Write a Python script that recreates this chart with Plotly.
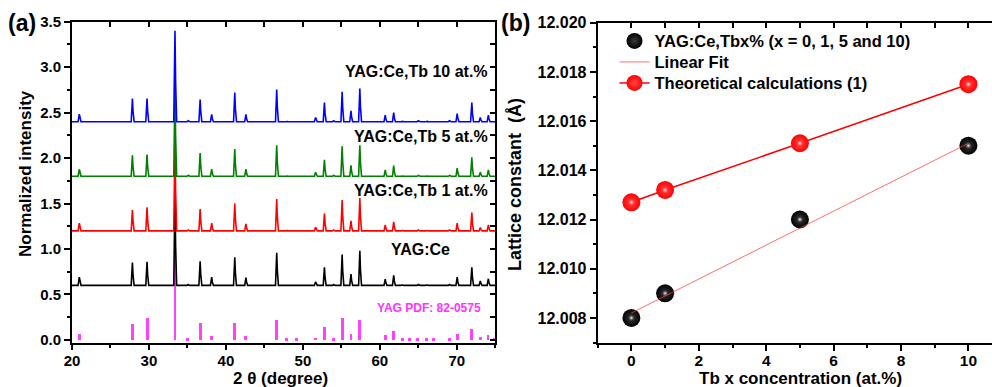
import plotly.graph_objects as go

# ---------------- Panel (a) data : XRD ----------------
peak_pos = [20.95, 27.85, 29.75, 33.38, 35.1, 36.65, 38.15, 41.15, 42.6, 46.6,
            47.9, 49.1, 51.65, 52.8, 54.0, 55.1, 56.25, 57.4, 60.7, 61.8,
            62.9, 63.95, 65.0, 66.1, 67.1, 69.05, 70.05, 71.95, 73.05, 74.1]
h_yag_ce = [0.09, 0.25, 0.26, 1.0, 0.01, 0.265, 0.09, 0.31, 0.085, 0.36,
            0.005, 0.005, 0.04, 0.20, 0.01, 0.34, 0.124, 0.38, 0.07, 0.11,
            0.008, 0.008, 0.01, 0.008, 0.005, 0.01, 0.09, 0.20, 0.05, 0.073]
h_tb1 = [0.084, 0.23, 0.26, 1.0, 0.01, 0.24, 0.084, 0.30, 0.077, 0.35,
         0.005, 0.005, 0.04, 0.19, 0.01, 0.34, 0.11, 0.36, 0.066, 0.10,
         0.008, 0.008, 0.01, 0.008, 0.005, 0.01, 0.084, 0.20, 0.036, 0.066]
h_tb5 = [0.077, 0.23, 0.24, 1.0, 0.01, 0.255, 0.08, 0.30, 0.078, 0.34,
         0.005, 0.005, 0.044, 0.18, 0.01, 0.33, 0.12, 0.34, 0.07, 0.117,
         0.008, 0.008, 0.01, 0.008, 0.005, 0.01, 0.09, 0.21, 0.045, 0.07]
h_tb10 = [0.084, 0.255, 0.255, 1.0, 0.01, 0.245, 0.08, 0.32, 0.08, 0.354,
          0.005, 0.005, 0.047, 0.21, 0.01, 0.33, 0.12, 0.365, 0.073, 0.10,
          0.008, 0.008, 0.01, 0.008, 0.005, 0.01, 0.09, 0.21, 0.047, 0.073]
offsets = [0.6, 1.2, 1.8, 2.4]
series_names = ["YAG:Ce", "YAG:Ce,Tb 1 at.%", "YAG:Ce,Tb 5 at.%", "YAG:Ce,Tb 10 at.%"]
series_colors = ["#000000", "#ff0000", "#008000", "#0000ff"]

pdf_pos = [20.95, 27.85, 29.75, 33.38, 35.05, 36.65, 38.15, 41.15, 42.6, 46.6,
           47.9, 49.15, 51.65, 52.8, 53.95, 55.1, 56.25, 57.4, 60.7, 61.8,
           62.9, 63.9, 64.95, 66.0, 67.0, 69.0, 70.05, 71.95, 73.05, 74.05, 74.9]
pdf_h = [0.07, 0.18, 0.24, 1.0, 0.02, 0.195, 0.05, 0.195, 0.05, 0.22,
         0.02, 0.02, 0.03, 0.15, 0.02, 0.25, 0.07, 0.22, 0.06, 0.10,
         0.02, 0.02, 0.02, 0.02, 0.02, 0.02, 0.07, 0.12, 0.04, 0.06, 0.03]

x_ticks_a = [20, 30, 40, 50, 60, 70]
y_ticks_a = [0.0, 0.5, 1.0, 1.5, 2.0, 2.5, 3.0, 3.5]

# ---------------- Panel (b) data : lattice constant ----------------
tb_x = [0, 1, 5, 10]
lattice_exp = [12.008, 12.009, 12.012, 12.015]
lattice_theory = [12.0127, 12.0132, 12.0151, 12.0175]
fit_x = [0, 10]
fit_y = [12.0082, 12.0151]
x_ticks_b = [0, 2, 4, 6, 8, 10]
y_ticks_b = [12.008, 12.010, 12.012, 12.014, 12.016, 12.018, 12.020]

FONT = "Liberation Sans, Arial, sans-serif"
W, H = 992, 387


def px_x(p):
    return p / W


def px_y(p):
    return 1 - p / H


def pattern(pos, hts, base, x0=20, x1=75):
    xs, ys = [x0], [base]
    for p, hh in zip(pos, hts):
        xs += [p - 0.16, p, p + 0.08, p + 0.22]
        ys += [base, base + hh, base + 0.45 * hh, base]
    xs.append(x1)
    ys.append(base)
    return xs, ys


fig = go.Figure()

# stick pattern
fig.add_trace(go.Bar(x=pdf_pos, y=pdf_h, width=0.38, marker=dict(color="#ff40ff", line=dict(width=0)),
                     xaxis="x", yaxis="y", showlegend=False, hoverinfo="skip"))

for hts, off, name, col in zip([h_yag_ce, h_tb1, h_tb5, h_tb10], offsets, series_names, series_colors):
    xs, ys = pattern(peak_pos, hts, off)
    fig.add_trace(go.Scatter(x=xs, y=ys, mode="lines", line=dict(color=col, width=1.6),
                             xaxis="x", yaxis="y", showlegend=False, name=name))

# panel b
fig.add_trace(go.Scatter(x=tb_x, y=lattice_exp, mode="markers", xaxis="x2", yaxis="y2",
                         name="YAG:Ce,Tbx% (x = 0, 1, 5 and 10)", legend="legend",
                         marker=dict(size=18, color="#000000", line=dict(width=0),
                                     gradient=dict(type="radial", color="#3a3a3a"))))
fig.add_trace(go.Scatter(x=tb_x, y=lattice_exp, mode="markers", xaxis="x2", yaxis="y2",
                         showlegend=False, hoverinfo="skip",
                         marker=dict(size=8, color="rgba(0,0,0,0)", line=dict(width=0),
                                     gradient=dict(type="radial", color="#ffffff"))))
fig.add_trace(go.Scatter(x=fit_x, y=fit_y, mode="lines", xaxis="x2", yaxis="y2",
                         name="Linear Fit", legend="legend2",
                         line=dict(color="rgba(255,60,60,0.75)", width=1)))
fig.add_trace(go.Scatter(x=tb_x, y=lattice_theory, mode="lines+markers", xaxis="x2", yaxis="y2",
                         name="Theoretical calculations (1)", legend="legend3",
                         line=dict(color="#ff0000", width=1.5),
                         marker=dict(size=18, color="#ff0000", line=dict(width=0),
                                     gradient=dict(type="radial", color="#ff4848"))))
fig.add_trace(go.Scatter(x=tb_x, y=lattice_theory, mode="markers", xaxis="x2", yaxis="y2",
                         showlegend=False, hoverinfo="skip",
                         marker=dict(size=8, color="rgba(255,0,0,0)", line=dict(width=0),
                                     gradient=dict(type="radial", color="#ffffff"))))

tickfont_a = dict(family=FONT, size=15, color="black")
tickfont_b = dict(family=FONT, size=16, color="black")
tickfont_bx = dict(family=FONT, size=15.5, color="black")


def bold(vals, fmt):
    return ["<b>" + format(v, fmt) + "</b>" for v in vals]


dom_a_x = [px_x(72), px_x(495.3)]
dom_a_y = [px_y(342.5), px_y(21.7)]
dom_b_x = [px_x(597.7), 1.0]
dom_b_y = [px_y(342.5), px_y(22.7)]
range_a_x = [20, 75]
range_a_y = [-0.028, 3.5]
range_b_x = [-1, 10.70]
range_b_y = [12.007, 12.020]

common = dict(showgrid=False, zeroline=False, showline=True, linecolor="black", linewidth=2,
              tickcolor="black", tickwidth=2)

legfont = dict(family=FONT, size=16.5, color="black", weight="bold")


def leg(center_y):
    return dict(x=px_x(614.5), y=px_y(center_y - 17), xanchor="left", yanchor="top",
                font=legfont, bgcolor="rgba(0,0,0,0)", borderwidth=0)


fig.update_layout(
    width=W, height=H, margin=dict(l=0, r=0, t=0, b=0),
    paper_bgcolor="white", plot_bgcolor="white",
    barmode="overlay", bargap=0,
    showlegend=True,
    legend=leg(40.7), legend2=leg(61.7), legend3=leg(82.7),
    xaxis=dict(domain=dom_a_x, range=range_a_x, anchor="y", ticks="outside", ticklen=5,
               tickvals=x_ticks_a, ticktext=bold(x_ticks_a, "d"), tickfont=tickfont_a, automargin=False,
               ticklabelstandoff=-2,
               minor=dict(dtick=5, tick0=20, ticks="outside", ticklen=3, tickwidth=2, tickcolor="black"),
               **common),
    yaxis=dict(domain=dom_a_y, range=range_a_y, anchor="x", ticks="outside", ticklen=6,
               tickvals=y_ticks_a, ticktext=bold(y_ticks_a, ".1f"), tickfont=tickfont_a, automargin=False,
               minor=dict(dtick=0.25, tick0=0, ticks="outside", ticklen=3, tickwidth=2, tickcolor="black"),
               **common),
    xaxis3=dict(domain=dom_a_x, range=range_a_x, overlaying="x", anchor="y", side="top",
                ticks="inside", ticklen=5, dtick=5, tick0=20, showticklabels=False, automargin=False,
                **common),
    yaxis3=dict(domain=dom_a_y, range=range_a_y, overlaying="y", anchor="x", side="right",
                ticks="inside", ticklen=5, dtick=0.25, tick0=0, showticklabels=False, automargin=False,
                **common),
    xaxis2=dict(domain=dom_b_x, range=range_b_x, anchor="y2", ticks="outside", ticklen=6,
                tickvals=x_ticks_b, ticktext=bold(x_ticks_b, "d"), tickfont=tickfont_bx, automargin=False,
                ticklabelstandoff=-3,
                minor=dict(dtick=1, tick0=0, ticks="outside", ticklen=3, tickwidth=2, tickcolor="black"),
                **common),
    yaxis2=dict(domain=dom_b_y, range=range_b_y, anchor="x2", ticks="outside", ticklen=6,
                tickvals=y_ticks_b, ticktext=bold(y_ticks_b, ".3f"), tickfont=tickfont_b, automargin=False,
                minor=dict(dtick=0.001, tick0=12.008, ticks="outside", ticklen=3, tickwidth=2, tickcolor="black"),
                **common),
    xaxis4=dict(domain=dom_b_x, range=range_b_x, overlaying="x2", anchor="y2", side="top",
                ticks="inside", ticklen=5, dtick=1, tick0=0, showticklabels=False, automargin=False,
                **common),
)

# make overlay axes render
fig.add_trace(go.Scatter(x=[None], y=[None], xaxis="x3", yaxis="y3", showlegend=False, hoverinfo="skip"))
fig.add_trace(go.Scatter(x=[None], y=[None], xaxis="x4", yaxis="y2", showlegend=False, hoverinfo="skip"))


def ann(text, x, y, size, color="black", xanchor="center", angle=0):
    fig.add_annotation(text=text, x=px_x(x), y=px_y(y), xref="paper", yref="paper",
                       xanchor=xanchor, yanchor="middle", showarrow=False, textangle=angle,
                       font=dict(family=FONT, size=size, color=color, weight="bold"))


ann("(a)", 22, 23, 23)
ann("(b)", 515, 23, 23)
ann("Normalized intensity", 25, 174, 17, angle=-90)
ann("2 θ (degree)", 280, 378, 17)
ann("Lattice constant  (Å)", 515, 185, 18, angle=-90)
ann("Tb x concentration (at.%)", 800, 378, 17)

label_right = [451.7, 490, 490, 490]
label_y = [249, 190, 136, 71]
for name, xr, yy in zip(series_names, label_right, label_y):
    ann(name, xr, yy, 16, xanchor="right")
ann("YAG PDF: 82-0575", 483.3, 307.5, 12, color="#ff33ff", xanchor="right")

fig.write_html("out.html")
